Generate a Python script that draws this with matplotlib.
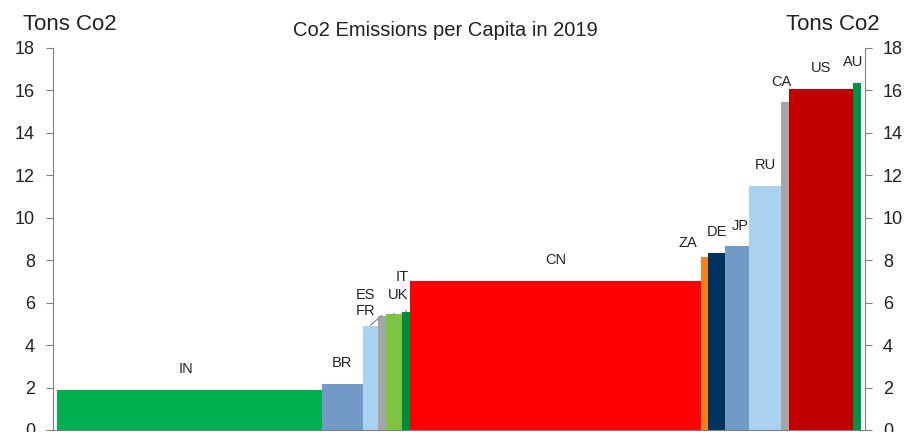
import numpy as np
import matplotlib
matplotlib.use("Agg")
from matplotlib import pyplot as plt

plt.rcParams['font.family'] = ['Liberation Sans', 'DejaVu Sans']

# country codes, population (millions), tons CO2 per capita
countries = ["IN", "BR", "FR", "ES", "UK", "IT", "CN", "ZA", "DE", "JP", "RU", "CA", "US", "AU"]
population = [1325, 204, 75, 40, 83, 38, 1455, 37, 82, 122, 157, 42, 320, 40]
emissions = [1.89, 2.16, 4.9, 5.39, 5.46, 5.57, 7.04, 8.15, 8.35, 8.69, 11.5, 15.46, 16.05, 16.33]
colors = ["#00B050", "#7399C6", "#AAD2F0", "#A6A6A6", "#7DC242", "#008A3E", "#FF0000",
          "#F58220", "#003360", "#7399C6", "#AAD2F0", "#A6A6A6", "#C00000", "#00924A"]

# label offsets in pixels (dx, dy) from bar top centre
label_offsets = {"ZA": (-17, 14), "JP": (3, 20), "CA": (-3, 20), "AU": (-4, 21),
                 "ES": (-16, 21), "FR": (-5, 15), "UK": (4, 19), "IT": (-4, 35), "IN": (-4, 21)}
leader_lines = {"FR": "ES", "UK": "UK", "IT": "IT"}


def main():
    fig = plt.figure(figsize=(9.06, 4.32), dpi=100)
    ax = fig.add_axes([53 / 906, 2 / 432, (865 - 53) / 906, (430 - 48) / 432])

    widths = np.array(population, dtype=float)
    lefts = np.concatenate([[0], np.cumsum(widths)[:-1]])
    total = widths.sum()
    gap = total * 4 / 804

    ax.bar(lefts, emissions, width=widths, align="edge", color=colors, edgecolor="none")

    centers = lefts + widths / 2
    idx = {c: i for i, c in enumerate(countries)}
    for i, c in enumerate(countries):
        dx, dy = label_offsets.get(c, (0, 21))
        ax.annotate(c, xy=(centers[i], emissions[i]), xytext=(dx, dy), textcoords="offset pixels",
                    ha="center", va="center", fontsize=10.5, color="#222222")

    # leader lines from small labels to their bars
    for c, target in leader_lines.items():
        i = idx[c]
        j = idx[target]
        dx, dy = label_offsets[c]
        start = ax.transData.transform((centers[i], emissions[i])) + np.array([dx, dy])
        if c == "FR":
            start = start + np.array([10, -2])
        elif c == "UK":
            start = start + np.array([-1, -9])
        else:
            start = start + np.array([2, -9])
        end = ax.transData.transform((centers[j], emissions[j]))
        xs, ys = ax.transData.inverted().transform(np.array([start, end])).T
        ax.plot(xs, ys, color="#8C8C8C", lw=0.9)

    ax.set_xlim(-gap, total + gap)
    ax.set_ylim(0, 18)
    ax.set_yticks(np.arange(0, 19, 2))
    ax.set_xticks([])
    ax.tick_params(axis="y", which="both", left=True, right=True, labelleft=True, labelright=True,
                   direction="out", length=5, pad=8, color="#808080", labelsize=13,
                   labelcolor="#222222")
    for s in ["left", "right", "bottom"]:
        ax.spines[s].set_color("#808080")
    ax.spines["top"].set_visible(False)

    fig.text(23 / 906, 1 - 25 / 432, "Tons Co2", fontsize=16, va="center", ha="left", color="#222222")
    fig.text(880 / 906, 1 - 25 / 432, "Tons Co2", fontsize=16, va="center", ha="right", color="#222222")
    fig.text(445 / 906, 1 - 31 / 432, "Co2 Emissions per Capita in 2019", fontsize=14.5,
             va="center", ha="center", color="#222222")

    fig.savefig("out.png", dpi=100)


if __name__ == "__main__":
    main()
